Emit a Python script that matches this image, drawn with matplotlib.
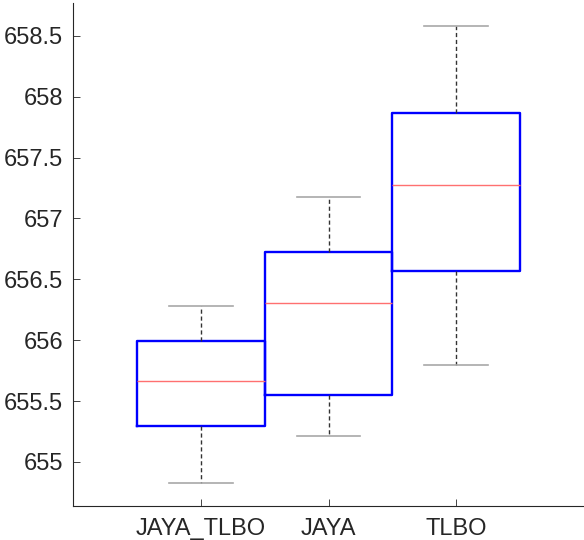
import matplotlib
matplotlib.use("Agg")
import matplotlib.pyplot as plt

labels = ["JAYA_TLBO", "JAYA", "TLBO"]
whisk_lo = [654.83, 655.21, 655.795]
q1 = [655.294, 655.549, 656.568]
med = [655.664, 656.305, 657.276]
q3 = [655.993, 656.723, 657.868]
whisk_hi = [656.278, 657.175, 658.577]

stats = []
for i in range(len(labels)):
    stats.append({
        "label": labels[i],
        "whislo": whisk_lo[i], "q1": q1[i], "med": med[i],
        "q3": q3[i], "whishi": whisk_hi[i], "fliers": [],
    })

plt.rcParams["font.family"] = ["Liberation Sans", "DejaVu Sans"]

fig = plt.figure(figsize=(5.84, 5.40), dpi=100, facecolor="white")
ax = fig.add_axes([0.125, 0.0635, 0.875, 0.931])

ax.bxp(stats, positions=[1, 2, 3], widths=1.0, showfliers=False,
       boxprops=dict(color="#0000ff", linewidth=1.7),
       medianprops=dict(color="#ff7070", linewidth=1.0),
       whiskerprops=dict(color="#333333", linewidth=1.0, linestyle=(0, (3, 2))),
       capprops=dict(color="#a8a8a8", linewidth=1.2),
       capwidths=0.5)

ax.set_xlim(0, 4)
ax.set_ylim(654.64, 658.77)
ax.set_yticks([655, 655.5, 656, 656.5, 657, 657.5, 658, 658.5])
ax.set_yticklabels(["655", "655.5", "656", "656.5", "657", "657.5", "658", "658.5"])
ax.set_xticks([1, 2, 3])
ax.set_xticklabels(labels)

ax.spines["right"].set_visible(False)
ax.spines["top"].set_visible(False)
for s in ["left", "bottom"]:
    ax.spines[s].set_color("#262626")
    ax.spines[s].set_linewidth(0.8)
ax.tick_params(direction="in", length=5, width=0.6, colors="#262626",
               labelsize=17, pad=7)
ax.tick_params(axis="x", pad=9)

fig.savefig("out.png", dpi=100)
